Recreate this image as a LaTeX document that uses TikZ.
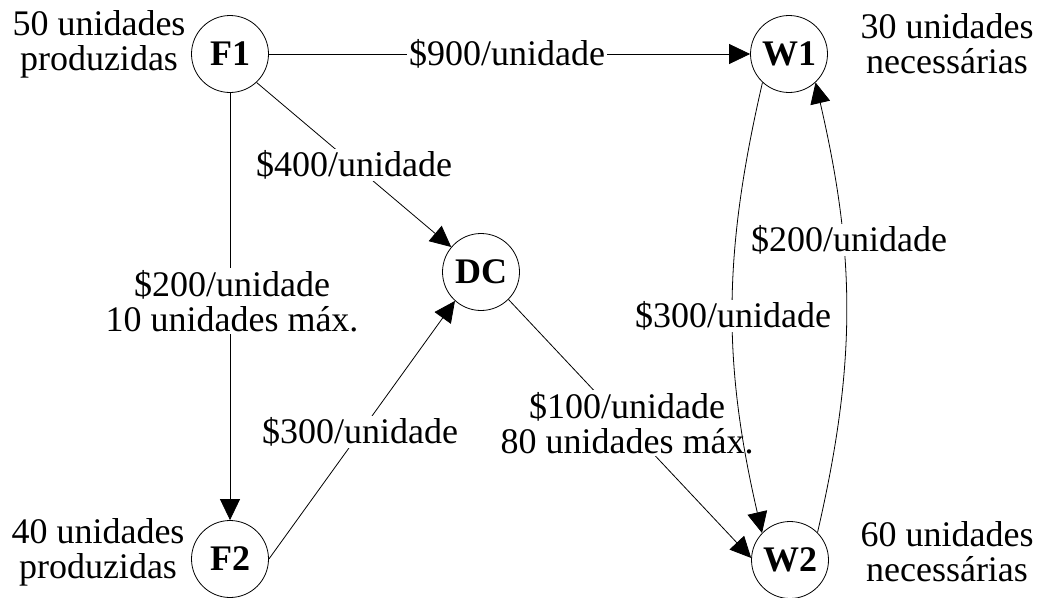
\documentclass[tikz,border=0pt]{standalone}
\usepackage{fontspec}
\setmainfont{Liberation Serif}
\usetikzlibrary{arrows.meta}
\begin{document}
\begin{tikzpicture}[x=1pt,y=-1pt,
  every node/.style={font=\fontsize{36pt}{35pt}\selectfont},
  station/.style={circle,draw,line width=0.8pt,minimum size=77pt,inner sep=0pt,font=\fontsize{36pt}{35pt}\selectfont\bfseries},
  lbl/.style={fill=white,inner sep=2pt,align=center},
  side/.style={inner sep=0pt,align=center},
  arr/.style={line width=0.8pt,-{Triangle[length=21pt,width=20pt]}}]
\useasboundingbox (0,0) rectangle (1043,597);
\node[station] (F1) at (230,54) {F1};
\node[station] (W1) at (789,54) {W1};
\node[station] (DC) at (481,272) {DC};
\node[station] (F2) at (230,559) {F2};
\node[station] (W2) at (790,560) {W2};
\node[side] (tF1) at (99,44) {50 unidades\\produzidas};
\node[side] (tW1) at (947,44) {30 unidades\\necessárias};
\node[side] (tF2) at (98,552) {40 unidades\\produzidas};
\node[side] (tW2) at (947,552) {60 unidades\\necessárias};
\draw[arr] (F1.east) -- (W1.west);
\draw[arr] (F1.-47) -- (DC.140);
\draw[arr] (F1.south) -- (F2.north);
\draw[arr] (F2.east) -- (DC.228);
\draw[arr] (DC.-45) -- (W2.177);
\node[lbl] (l900) at (507,54) {\$900/unidade};
\node[lbl] (l400) at (354,165) {\$400/unidade};
\node[lbl] (l200a) at (232,301) {\$200/unidade\\10 unidades máx.};
\node[lbl] (l300a) at (360,432) {\$300/unidade};
\node[lbl] (l100) at (627,423) {\$100/unidade\\80 unidades máx.};
\draw[arr] (W1.227) to[out=257,in=103] (W2.136);
\draw[arr] (W2.45) to[out=77,in=283] (W1.313);
\node[lbl] (l300b) at (733,316) {\$300/unidade};
\node[lbl] (l200b) at (849,240) {\$200/unidade};
\end{tikzpicture}
\end{document}
